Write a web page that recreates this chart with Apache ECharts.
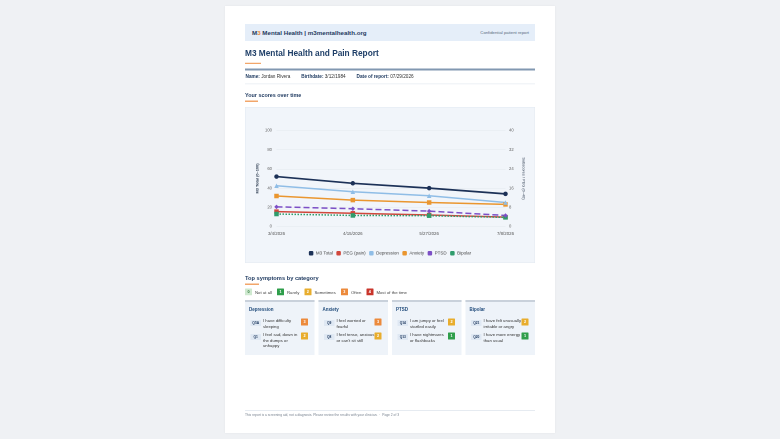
<!DOCTYPE html>
<html>
<head>
<meta charset="utf-8">
<script src="https://cdn.jsdelivr.net/npm/echarts@6/dist/echarts.min.js"></script>
<style>
  html, body { margin: 0; padding: 0; background: #eff1f4; overflow: hidden; }
  body { width: 780px; height: 439px; font-family: "Liberation Sans", Arial, sans-serif; }
  #stage { position: absolute; left: 0; top: 0; width: 1560px; height: 878px; transform: scale(0.5); transform-origin: 0 0; }
  .abs { position: absolute; }
  #card { left: 450px; top: 12px; width: 660px; height: 854px; background: #fff; box-shadow: 0 0 4px rgba(0,0,0,0.06); }
  #topbar { left: 490px; top: 48px; width: 580px; height: 34px; background: #e5eef9; }
  #brand { left: 14px; top: 0; line-height: 34px; font-size: 12.4px; font-weight: bold; color: #1f3a60; }
  #brand .o { color: #e8873a; }
  #conf { right: 12px; top: 0; line-height: 34px; font-size: 8.5px; color: #5b6b80; }
  #title { left: 490px; top: 97px; font-size: 16.6px; font-weight: bold; color: #1f3f68; }
  .ubar { position: absolute; height: 3px; background: #f2a66a; }
  #thick { left: 490px; top: 137px; width: 580px; height: 4px; background: #8198b1; }
  #info { left: 491px; top: 147px; font-size: 9.4px; color: #333; }
  #info b { color: #1f3a60; }
  #info span { margin-right: 22px; }
  .thin { position: absolute; height: 2px; background: #e6ebf1; }
  .h2 { position: absolute; font-size: 10.8px; font-weight: bold; color: #1f3a60; }
  #chartbox { left: 490px; top: 214px; width: 578px; height: 310px; background: #f1f5fa; border: 1px solid #e2e9f1; }
  #chart { width: 578px; height: 310px; }
  #legendrow { left: 490px; top: 577px; font-size: 8.6px; color: #444; white-space: nowrap; }
  .badge { display: inline-block; width: 14px; height: 14px; line-height: 14px; text-align: center; font-size: 7.6px; font-weight: bold; color: #fff; border-radius: 1px; vertical-align: middle; }
  .lg { display: inline-block; vertical-align: middle; margin: 0 10px 0 6px; }
  .cat { position: absolute; top: 600px; width: 139px; height: 110px; background: #eef3f9; border-top: 4px solid #c9d1db; box-sizing: border-box; }
  .cat h4 { margin: 0; position: absolute; left: 8px; top: 9px; font-size: 9px; font-weight: bold; color: #1f4a7a; }
  .item { position: absolute; left: 0; width: 139px; }
  .qid { position: absolute; left: 11px; top: 4px; width: 21px; height: 12px; line-height: 12px; font-size: 6.6px; font-weight: bold; color: #1f3a60; background: #dfe8f3; text-align: center; border-radius: 1px; }
  .qtxt { position: absolute; left: 36px; top: 0; width: 76px; font-size: 8.5px; line-height: 10.6px; color: #333; }
  .item .badge { position: absolute; left: 112px; top: 1px; }
  #footline { left: 490px; top: 820px; width: 580px; }
  #foot { left: 490px; top: 826px; font-size: 6.6px; color: #7a8491; }
</style>
</head>
<body>
<div id="stage">
  <div id="card" class="abs"></div>
  <div id="topbar" class="abs">
    <div id="brand" class="abs">M<span class="o">3</span> Mental Health | m3mentalhealth.org</div>
    <div id="conf" class="abs">Confidential patient report</div>
  </div>
  <div id="title" class="abs">M3 Mental Health and Pain Report</div>
  <div class="ubar" style="left:490px;top:125px;width:32px;"></div>
  <div id="thick" class="abs"></div>
  <div id="info" class="abs"></div>
  <div class="thin" style="left:490px;top:167px;width:580px;"></div>
  <div class="h2" style="left:490px;top:184px;">Your scores over time</div>
  <div class="ubar" style="left:490px;top:201px;width:26px;"></div>
  <div id="chartbox" class="abs"><div id="chart"></div></div>
  <div class="h2" style="left:490px;top:549px;font-size:11.4px;">Top symptoms by category</div>
  <div class="ubar" style="left:490px;top:567px;width:28px;"></div>
  <div id="legendrow" class="abs"></div>
  <div id="cards"></div>
  <div id="footline" class="thin"></div>
  <div id="foot" class="abs">This report is a screening aid, not a diagnosis. Please review the results with your clinician. &nbsp;·&nbsp; Page 2 of 3</div>
</div>
<script>
// patient info
var patientInfo = [["Name:", "Jordan Rivera"], ["Birthdate:", "3/12/1984"], ["Date of report:", "07/29/2026"]];

// scores over time
var visitDates = ["3/4/2026", "4/15/2026", "5/27/2026", "7/8/2026"];
var m3Total = [52, 45, 40, 34];          // left axis 0-100
var pegPain = [6.2, 5.5, 4.8, 3.9];      // right axis 0-40
var depression = [17, 14.5, 12.8, 10];
var anxiety = [12.7, 11, 10, 9.2];
var ptsd = [8.2, 7.4, 6.4, 4.6];
var bipolar = [5.2, 4.6, 4.5, 3.8];
var leftTicks = [0, 20, 40, 60, 80, 100];
var rightTicks = [0, 8, 16, 24, 32, 40];

// symptom frequency scale
var freqLabels = ["Not at all", "Rarely", "Sometimes", "Often", "Most of the time"];
var freqColors = ["#cfe9d0", "#2f9e4b", "#e8ad2d", "#ec8a3c", "#c9352b"];

// top symptoms
var categories = ["Depression", "Anxiety", "PTSD", "Bipolar"];
var symptomIds = [["Q5A", "Q1"], ["Q9", "Q8"], ["Q14", "Q13"], ["Q21", "Q20"]];
var symptomText = [
  ["I have difficulty sleeping", "I feel sad, down in the dumps or unhappy"],
  ["I feel worried or fearful", "I feel tense, anxious or can't sit still"],
  ["I am jumpy or feel startled easily", "I have nightmares or flashbacks"],
  ["I have felt unusually irritable or angry", "I have more energy than usual"]
];
var symptomScores = [[3, 2], [3, 2], [2, 1], [2, 1]];

// ---- page bits ----
document.getElementById("info").innerHTML = patientInfo.map(function (p) {
  return "<span><b>" + p[0] + "</b> " + p[1] + "</span>";
}).join("");

function badge(n) {
  var fg = n === 0 ? "#2f7a3b" : "#fff";
  return '<span class="badge" style="background:' + freqColors[n] + ';color:' + fg + '">' + n + "</span>";
}

document.getElementById("legendrow").innerHTML = freqLabels.map(function (l, i) {
  return badge(i) + '<span class="lg">' + l + "</span>";
}).join("");

var cardsHtml = "";
categories.forEach(function (c, ci) {
  var left = 490 + ci * 147;
  var h = '<div class="cat" style="left:' + left + 'px"><h4>' + c + "</h4>";
  var tops = [32, 60];
  symptomIds[ci].forEach(function (q, qi) {
    h += '<div class="item" style="top:' + tops[qi] + 'px"><div class="qid">' + q + '</div>' +
      '<div class="qtxt">' + symptomText[ci][qi] + "</div>" + badge(symptomScores[ci][qi]) + "</div>";
  });
  cardsHtml += h + "</div>";
});
document.getElementById("cards").innerHTML = cardsHtml;

// ---- chart ----
var chart = echarts.init(document.getElementById("chart"));

function lineSeries(name, data, color, symbol, axis, lineType, width) {
  return {
    name: name,
    type: "line",
    yAxisIndex: axis,
    data: data,
    symbol: symbol,
    symbolSize: 9,
    lineStyle: { color: color, width: width, type: lineType },
    itemStyle: { color: color },
    emphasis: { disabled: true }
  };
}

var option = {
  animation: false,
  textStyle: { fontFamily: "Liberation Sans, Arial, sans-serif" },
  grid: { left: 62, right: 58, top: 46, bottom: 72 },
  legend: {
    bottom: 9,
    icon: "roundRect",
    itemWidth: 9,
    itemHeight: 9,
    itemGap: 7,
    textStyle: { fontSize: 9, color: "#444" },
    data: ["M3 Total", "PEG (pain)", "Depression", "Anxiety", "PTSD", "Bipolar"]
  },
  xAxis: {
    type: "category",
    boundaryGap: false,
    data: visitDates,
    axisLine: { show: false },
    axisTick: { show: false },
    axisLabel: { fontSize: 8.8, color: "#555", margin: 10 }
  },
  yAxis: [
    {
      type: "value",
      min: leftTicks[0],
      max: leftTicks[leftTicks.length - 1],
      interval: leftTicks[1] - leftTicks[0],
      name: "M3 Total (0–100)",
      nameLocation: "middle",
      nameGap: 34,
      nameRotate: 90,
      nameTextStyle: { fontSize: 7.8, fontWeight: "bold", color: "#2b3a4e" },
      axisLabel: { fontSize: 8.4, color: "#666", margin: 9 },
      splitLine: { lineStyle: { color: "#e3e8ef", width: 1 } }
    },
    {
      type: "value",
      min: rightTicks[0],
      max: rightTicks[rightTicks.length - 1],
      interval: rightTicks[1] - rightTicks[0],
      name: "Subscores / PEG (0–40)",
      nameLocation: "middle",
      nameGap: 32,
      nameRotate: -90,
      nameTextStyle: { fontSize: 7.8, color: "#2b3a4e" },
      axisLabel: { fontSize: 8.4, color: "#666", margin: 7 },
      splitLine: { show: false }
    }
  ],
  series: [
    lineSeries("PEG (pain)", pegPain, "#d1473c", "rect", 1, "solid", 3),
    lineSeries("Bipolar", bipolar, "#2f9c6c", "rect", 1, "dotted", 3),
    lineSeries("PTSD", ptsd, "#7c4fc6", "diamond", 1, "dashed", 3),
    lineSeries("Anxiety", anxiety, "#ea962f", "rect", 1, "solid", 3),
    lineSeries("Depression", depression, "#8fbde6", "triangle", 1, "solid", 3),
    lineSeries("M3 Total", m3Total, "#1c3157", "circle", 0, "solid", 3.4)
  ]
};
chart.setOption(option);
</script>
</body>
</html>
